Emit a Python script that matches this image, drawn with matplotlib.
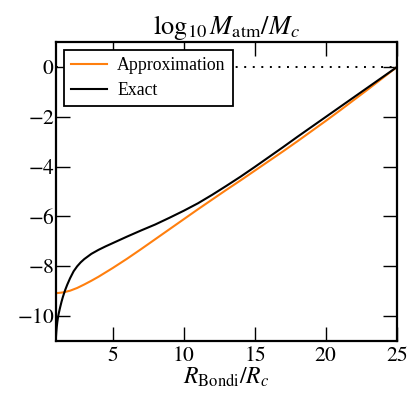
import matplotlib
matplotlib.use("Agg")
import matplotlib.pyplot as plt
from matplotlib.ticker import FuncFormatter

# Data
x_exact = [1.0, 1.03, 1.06, 1.1, 1.15, 1.2, 1.3, 1.4, 1.5, 1.65, 1.8, 2.0, 2.25, 2.5, 2.75,
           3.0, 3.5, 4.0, 4.5, 5.0, 6.0, 7.0, 8.0, 9.0, 10.0, 11.0, 12.0, 13.0, 14.0, 15.0,
           16.0, 17.0, 18.0, 19.0, 20.0, 21.0, 22.0, 23.0, 24.0, 25.0]
y_exact = [-10.9, -10.65, -10.45, -10.25, -10.05, -9.9, -9.65, -9.42, -9.22, -8.96, -8.74,
           -8.48, -8.2, -8.0, -7.84, -7.71, -7.5, -7.34, -7.2, -7.07, -6.81, -6.56,
           -6.32, -6.05, -5.77, -5.47, -5.13, -4.77, -4.40, -4.01, -3.61, -3.21, -2.80,
           -2.40, -2.0, -1.6, -1.2, -0.8, -0.4, 0.0]

x_approx = [1.0, 1.5, 2.0, 2.5, 3.0, 3.5, 4.0, 5.0, 6.0, 7.0, 8.0, 9.0, 10.0, 11.0, 12.0,
            13.0, 14.0, 15.0, 16.0, 17.0, 18.0, 19.0, 20.0, 21.0, 22.0, 23.0, 24.0, 25.0]
y_approx = [-9.08, -9.05, -8.98, -8.87, -8.73, -8.58, -8.42, -8.07, -7.70, -7.31, -6.91,
            -6.51, -6.11, -5.71, -5.32, -4.93, -4.55, -4.16, -3.77, -3.38, -2.98, -2.57,
            -2.16, -1.74, -1.31, -0.88, -0.44, 0.0]

x_ticks = [5, 10, 15, 20, 25]
y_ticks = [0, -2, -4, -6, -8, -10]

plt.rcParams['font.family'] = ['Liberation Serif', 'DejaVu Serif']
plt.rcParams['mathtext.fontset'] = 'stix'
plt.rcParams['font.size'] = 15.5

fig = plt.figure(figsize=(4.2, 3.94), dpi=100)
ax = fig.add_axes([0.133, 0.1345, 0.812, 0.7585])

ax.plot([1, 25], [0, 0], color='black', lw=1.4, linestyle=(0, (1, 3.4)), zorder=1)
ax.plot(x_approx, y_approx, color='#ff7f0e', lw=1.5, label='Approximation', zorder=2)
ax.plot(x_exact, y_exact, color='black', lw=1.5, label='Exact', zorder=3)

ax.set_xlim(1, 25)
ax.set_ylim(-11, 1)
ax.set_xticks(x_ticks)
ax.set_yticks(y_ticks)
fmt = FuncFormatter(lambda v, p: r'$%d$' % int(round(v)))
ax.xaxis.set_major_formatter(fmt)
ax.yaxis.set_major_formatter(fmt)
ax.tick_params(direction='in', length=10, width=1, top=True, right=True)
ax.tick_params(axis='x', pad=4)
ax.tick_params(axis='y', pad=1)
for s in ax.spines.values():
    s.set_linewidth(1.6)

ax.set_title(r'$\log_{10}M_{\rm atm}/M_c$', fontsize=19, pad=6)
ax.set_xlabel(r'$R_{\rm Bondi}/R_c$', fontsize=17, labelpad=0)

leg = ax.legend(loc='upper left', fancybox=False, framealpha=1, edgecolor='black',
                fontsize=12.8, borderaxespad=0.45, handlelength=2.0, borderpad=0.4,
                labelspacing=0.45, handletextpad=0.6)
leg.get_frame().set_linewidth(1.3)

fig.savefig('out.png', dpi=100)
